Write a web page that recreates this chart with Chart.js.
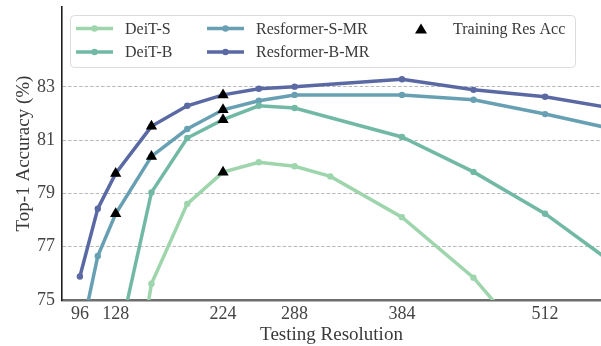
<!DOCTYPE html>
<html>
<head>
<meta charset="utf-8">
<script src="https://cdn.jsdelivr.net/npm/chart.js@4.4.1/dist/chart.umd.min.js"></script>
<style>
  html, body { margin: 0; padding: 0; background: #fff; }
  #chart { display: block; }
</style>
</head>
<body>
<canvas id="chart" width="601" height="346"></canvas>
<script>
const resolutions = [96, 112, 128, 160, 192, 224, 256, 288, 320, 384, 448, 512, 576];
const deitS = [null, null, 67.6, 75.61, 78.61, 79.8, 80.17, 80.02, 79.64, 78.11, 75.84, 72.7, null];
const deitB = [null, null, 73.0, 79.04, 81.08, 81.77, 82.29, 82.21, null, 81.12, 79.81, 78.24, 76.28];
const resformerS = [73.5, 76.65, 78.24, 80.39, 81.42, 82.14, 82.48, 82.70, null, 82.70, 82.52, 81.98, 81.39];
const resformerB = [75.88, 78.43, 79.75, 81.52, 82.29, 82.70, 82.93, 83.01, null, 83.29, 82.89, 82.63, 82.17];

const trainingRes = [128, 128, 160, 160, 224, 224, 224, 224];
const trainingAcc = [79.75, 78.24, 81.52, 80.39, 82.70, 82.14, 81.77, 79.8];

const xTicks = [96, 128, 224, 288, 384, 512];
const yTicks = [75, 77, 79, 81, 83];

const FONT = "'Liberation Serif', 'DejaVu Serif', serif";
const TEXT = '#3a3a3a';

const toPoints = (values) => resolutions
    .map((x, i) => ({ x, y: values[i] }))
    .filter((p) => p.y !== null);

const series = [
    { label: 'DeiT-S', data: deitS, color: '#9ed5ac' },
    { label: 'DeiT-B', data: deitB, color: '#72b9a5' },
    { label: 'Resformer-S-MR', data: resformerS, color: '#68a0b3' },
    { label: 'Resformer-B-MR', data: resformerB, color: '#5a69a3' },
];

const lineSets = series.map((s) => ({
    type: 'line',
    label: s.label,
    data: toPoints(s.data),
    borderColor: s.color,
    backgroundColor: s.color,
    pointBackgroundColor: s.color,
    pointBorderColor: s.color,
    borderWidth: 3.5,
    pointRadius: 3.2,
    pointBorderWidth: 0,
    tension: 0,
    spanGaps: true,
}));

const trainingSet = {
    type: 'scatter',
    label: 'Training Res Acc',
    data: trainingRes.map((x, i) => ({ x, y: trainingAcc[i] })),
    pointStyle: 'triangle',
    pointRadius: 6.5,
    backgroundColor: '#000',
    borderColor: '#000',
    borderWidth: 0,
    order: -1,
};

// legend laid out in three columns like the original figure
const legendBox = {
    id: 'legendBox',
    afterDraw(chart) {
        const { ctx } = chart;
        ctx.save();
        ctx.beginPath();
        ctx.roundRect(70.5, 15.5, 505, 52, 4);
        ctx.fillStyle = 'rgba(255,255,255,0.85)';
        ctx.fill();
        ctx.strokeStyle = '#dcdcdc';
        ctx.lineWidth = 1;
        ctx.stroke();

        const slots = [
            [76, 28.5], [76, 52], [207, 28.5], [207, 52],
        ];
        ctx.font = `16px ${FONT}`;
        ctx.textBaseline = 'middle';
        series.forEach((s, i) => {
            const [x, y] = slots[i];
            ctx.strokeStyle = s.color;
            ctx.lineWidth = 3.5;
            ctx.beginPath();
            ctx.moveTo(x, y);
            ctx.lineTo(x + 37, y);
            ctx.stroke();
            ctx.fillStyle = s.color;
            ctx.beginPath();
            ctx.arc(x + 18.5, y, 3.2, 0, Math.PI * 2);
            ctx.fill();
            ctx.fillStyle = TEXT;
            ctx.fillText(s.label, x + 49, y + 1);
        });

        ctx.fillStyle = '#000';
        ctx.beginPath();
        ctx.moveTo(421, 23.5);
        ctx.lineTo(427, 33.5);
        ctx.lineTo(415, 33.5);
        ctx.closePath();
        ctx.fill();
        ctx.fillStyle = TEXT;
        ctx.fillText('Training Res Acc', 453, 29.5);
        ctx.restore();
    },
};

new Chart(document.getElementById('chart'), {
    data: { datasets: [...lineSets, trainingSet] },
    options: {
        responsive: false,
        animation: false,
        events: [],
        layout: { autoPadding: false, padding: { top: 7, right: 0, left: 0, bottom: 0 } },
        scales: {
            x: {
                type: 'linear',
                min: 80,
                max: 562,
                afterBuildTicks: (scale) => { scale.ticks = xTicks.map((v) => ({ value: v })); },
                afterFit: (scale) => {
                    scale.height = 46;
                    scale.paddingLeft = 0;
                    scale.paddingRight = 0;
                },
                grid: { display: false, drawTicks: false },
                border: { display: true, color: '#6e6e6e', width: 2.5 },
                ticks: { color: '#444', font: { family: FONT, size: 18 }, padding: 3, maxRotation: 0 },
                title: {
                    display: true,
                    text: 'Testing Resolution',
                    color: TEXT,
                    font: { family: FONT, size: 19 },
                    padding: { top: 0, bottom: 0 },
                },
            },
            y: {
                min: 75,
                max: 86,
                afterBuildTicks: (scale) => { scale.ticks = yTicks.map((v) => ({ value: v })); },
                afterFit: (scale) => {
                    scale.width = 62;
                    scale.paddingTop = 0;
                    scale.paddingBottom = 0;
                },
                grid: {
                    drawTicks: false,
                    color: (c) => (c.tick && c.tick.value === 75 ? 'rgba(0,0,0,0)' : '#b0b0b0'),
                    lineWidth: 0.9,
                },
                border: { display: true, color: '#1e1e1e', width: 1.6, dash: [3.5, 2] },
                ticks: { color: '#444', font: { family: FONT, size: 18 }, padding: 7 },
                title: {
                    display: true,
                    text: 'Top-1 Accuracy (%)',
                    color: TEXT,
                    font: { family: FONT, size: 19 },
                    padding: { top: 13, bottom: 0 },
                },
            },
        },
        plugins: {
            legend: { display: false },
            tooltip: { enabled: false },
        },
    },
    plugins: [legendBox],
});
</script>
</body>
</html>
